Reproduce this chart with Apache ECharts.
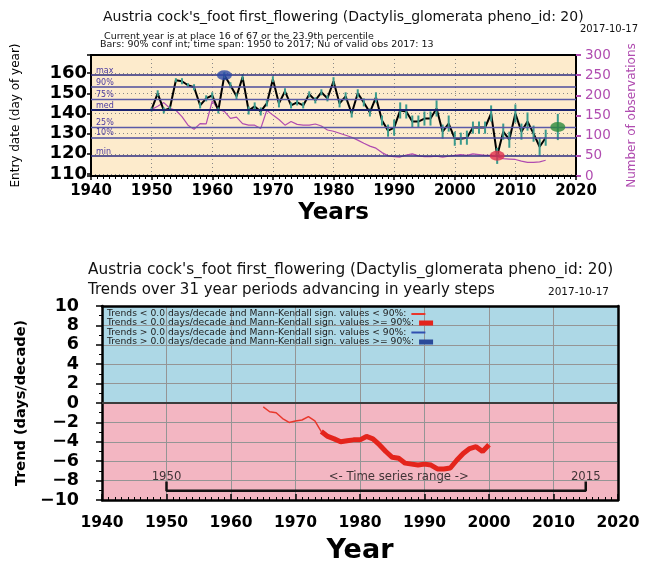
<!DOCTYPE html>
<html>
<head>
<meta charset="utf-8">
<script src="https://cdn.jsdelivr.net/npm/echarts@6/dist/echarts.min.js"></script>
<style>
html, body { margin: 0; padding: 0; background: #fff; }
#main { width: 646px; height: 569px; }
</style>
</head>
<body>
<div id="main"></div>
<script>
// top panel: entry dates per year, starting 1950
var firstYear = 1950;
var entryDays = [142, 150, 141.5, 142.5, 156.5, 156, 154, 153, 144, 147.5,
                 149, 141.5, 159, 154, 148.5, 158, 141.5, 143.5, 141, 145,
                 157, 145, 151, 144, 145.5, 144, 149.5, 146.5, 150.5, 147.5,
                 156, 145, 148.5, 140, 150, 145.5, 140.5, 148, 136.5, 131.5,
                 133, 141.5, 141, 136, 136, 137.5, 137.5, 142.5, 131, 135,
                 127.5, 127.5, 128, 133, 133, 133, 140, 119, 131, 127,
                 140, 131, 136, 130, 123.5, 128];
// half width of the 90% conf interval
var confHalf = [1, 1.5, 1.5, 1, 1, 1.5, 1, 1.5, 1.5, 1.5,
                1.5, 1.5, 1.5, 1.5, 1.5, 1.5, 2, 2, 2, 1.5,
                1.5, 2, 1.5, 1.5, 1.5, 1.5, 1.5, 1.5, 1.5, 1.5,
                2, 2, 2, 2, 2, 2, 2, 2.5, 2.5, 3,
                4, 4, 3.5, 3, 3, 3.5, 3.5, 4, 3.5, 4,
                3.5, 3, 3.5, 3, 3, 3, 4, 4, 4, 4,
                4.5, 4, 4.5, 4, 4.5, 4];
// number of observations (right axis)
var obsCount = [165, 173, 182, 168, 163, 147, 126, 116, 130, 129,
                186, 165, 160, 143, 146, 130, 126, 126, 118, 163,
                151, 140, 126, 135, 128, 126, 126, 129, 124, 114,
                111, 106, 101, 96, 89, 81, 74, 69, 58, 50,
                48, 47, 52, 55, 50, 48, 48, 49, 47, 49,
                51, 53, 51, 55, 53, 51, 51, 48, 43, 42,
                41, 37, 34, 34, 35, 39];
var pctNames = ['max', '90%', '75%', 'med', '25%', '10%', 'min'];
var pctValues = [159, 153.3, 147.2, 142, 133.1, 128.2, 119];
var currentYear = 2017;
var currentDay = 133.3;
var currentHalf = 6.5;

// bottom panel: trend of 31 year windows, centred years from 1965
var trendStart = 1965;
var trendValues = [-0.4, -0.9, -1.0, -1.6, -2.0, -1.85, -1.75, -1.4, -1.85, -2.95,
                   -3.45, -3.7, -4.0, -3.9, -3.8, -3.8, -3.45, -3.7, -4.3, -5.0,
                   -5.6, -5.7, -6.2, -6.3, -6.4, -6.3, -6.4, -6.8, -6.8, -6.7,
                   -5.9, -5.2, -4.7, -4.5, -5.0, -4.3];
var trendSignif = [0, 0, 0, 0, 0, 0, 0, 0, 0, 1,
                   1, 1, 1, 1, 1, 1, 1, 1, 1, 1,
                   1, 1, 1, 1, 1, 1, 1, 1, 1, 1,
                   1, 1, 1, 1, 1, 1];
var rangeYears = [1950, 2015];

var legendNames = [
    'Trends < 0.0 days/decade and Mann-Kendall sign. values < 90%:',
    'Trends < 0.0 days/decade and Mann-Kendall sign. values >= 90%:',
    'Trends > 0.0 days/decade and Mann-Kendall sign. values < 90%:',
    'Trends > 0.0 days/decade and Mann-Kendall sign. values >= 90%:'
];

var purple = '#b04cb0';
var fullTitle = "Austria cock's_foot first_flowering (Dactylis_glomerata pheno_id: 20)";

var lineData = entryDays.map(function (v, i) { return [firstYear + i, v]; });
var obsData = obsCount.map(function (v, i) { return [firstYear + i, v]; });
var errData = entryDays.map(function (v, i) { return [firstYear + i, v - confHalf[i], v + confHalf[i]]; });
errData.push([currentYear, currentDay - currentHalf, currentDay + currentHalf]);

var maxIdx = entryDays.indexOf(Math.max.apply(null, entryDays));
var minIdx = entryDays.indexOf(Math.min.apply(null, entryDays));

var thinData = [], thickData = [];
trendValues.forEach(function (v, i) {
    var yr = trendStart + i;
    thinData.push(trendSignif[i] === 0 || (i > 0 && trendSignif[i - 1] === 0) ? [yr, v] : [yr, null]);
    thickData.push(trendSignif[i] === 1 ? [yr, v] : [yr, null]);
});

var pctStyle = [
    {color: '#2c2c80', width: 1.5},
    {color: '#4c4c9c', width: 1.5},
    {color: '#5a5aa8', width: 1.3},
    {color: '#1c2470', width: 2},
    {color: '#5a5aa8', width: 1.3},
    {color: '#4c4c9c', width: 1.5},
    {color: '#2c2c80', width: 1.5}
];

function errItem(params, api) {
    var p1 = api.coord([api.value(0), api.value(1)]);
    var p2 = api.coord([api.value(0), api.value(2)]);
    return {type: 'line', shape: {x1: p1[0], y1: p1[1], x2: p2[0], y2: p2[1]},
            style: {stroke: '#3a9a8c', lineWidth: 2}};
}

function minusFmt(v) { return v < 0 ? '\u2212' + (-v) : String(v); }
function plainFmt(v) { return String(v); }

var txt = {fontFamily: 'DejaVu Sans', color: '#111', fontWeight: 'normal'};
function ts(extra) { return Object.assign({}, txt, extra); }

option = {
    animation: false,
    backgroundColor: '#fff',
    textStyle: {fontFamily: 'DejaVu Sans'},
    title: [
        {text: fullTitle, left: 103, top: 10, padding: 0, textStyle: ts({fontSize: 14})},
        {text: '2017-10-17', right: 8, top: 24, padding: 0, textStyle: ts({fontSize: 10})},
        {text: 'Current year is at place 16 of 67 or the 23.9th percentile', left: 104, top: 31.5, padding: 0, textStyle: ts({fontSize: 9.5})},
        {text: 'Bars: 90% conf int; time span: 1950 to 2017; Nu of valid obs 2017: 13', left: 100, top: 39.5, padding: 0, textStyle: ts({fontSize: 9.5})},
        {text: fullTitle, left: 88, top: 263, padding: 0, textStyle: ts({fontSize: 15.3})},
        {text: 'Trends over 31 year periods advancing in yearly steps', left: 88, top: 283, padding: 0, textStyle: ts({fontSize: 15})},
        {text: '2017-10-17', left: 548, top: 287, padding: 0, textStyle: ts({fontSize: 10.5})}
    ],
    legend: legendNames.map(function (n, i) {
        return {
            data: [n], left: 107, top: [309.5, 318.5, 328, 337.5][i], padding: 0,
            icon: 'rect', itemWidth: 14, itemHeight: i % 2 === 0 ? 2 : 5,
            align: 'right', selectedMode: false,
            textStyle: ts({fontSize: 9.2, color: '#222'})
        };
    }),
    grid: [
        {left: 91, top: 55, width: 486, height: 121, show: true, backgroundColor: '#fdebcc', borderWidth: 0},
        {left: 102, top: 306, width: 516, height: 194, show: false}
    ],
    xAxis: [
        {gridIndex: 0, type: 'value', min: 1940, max: 2020, interval: 10,
         axisLine: {show: true, onZero: false, lineStyle: {color: '#000', width: 2}},
         axisTick: {show: true, length: 4, lineStyle: {color: '#000', width: 1.5}},
         minorTick: {show: true, splitNumber: 10, length: 3, lineStyle: {color: '#000'}},
         axisLabel: Object.assign(ts({fontSize: 15, fontWeight: 'bold', color: '#000', margin: 8}), {formatter: plainFmt}),
         splitLine: {show: true, lineStyle: {color: '#888', type: [1, 3]}},
         name: 'Years', nameLocation: 'middle', nameGap: 26,
         nameTextStyle: ts({fontSize: 23, fontWeight: 'bold', color: '#000'})},
        {gridIndex: 0, type: 'value', min: 1940, max: 2020, position: 'top',
         axisLine: {show: true, onZero: false, lineStyle: {color: '#000', width: 2}},
         axisTick: {show: false}, axisLabel: {show: false}, splitLine: {show: false}},
        {gridIndex: 1, type: 'value', min: 1940, max: 2020, interval: 10, z: 1,
         axisLine: {show: true, onZero: false, lineStyle: {color: '#000', width: 2.5}},
         axisTick: {show: true, inside: true, length: 6, lineStyle: {color: '#000', width: 1.5}},
         minorTick: {show: true, splitNumber: 10, length: 3, lineStyle: {color: '#000'}},
         axisLabel: Object.assign(ts({fontSize: 15.5, fontWeight: 'bold', color: '#000', margin: 15}), {formatter: plainFmt}),
         splitLine: {show: true, lineStyle: {color: '#959595', width: 1}},
         name: 'Year', nameLocation: 'middle', nameGap: 37,
         nameTextStyle: ts({fontSize: 27, fontWeight: 'bold', color: '#000'})},
        {gridIndex: 1, type: 'value', min: 1940, max: 2020, position: 'top', z: 1,
         axisLine: {show: true, onZero: false, lineStyle: {color: '#000', width: 2.5}},
         axisTick: {show: false}, axisLabel: {show: false}, splitLine: {show: false}}
    ],
    yAxis: [
        {gridIndex: 0, type: 'value', min: 109, max: 169, splitNumber: 6, position: 'left',
         axisLine: {show: true, onZero: false, lineStyle: {color: '#000', width: 2}},
         axisTick: {show: true, length: 4, lineStyle: {color: '#000', width: 1.5}},
         axisLabel: Object.assign(ts({fontSize: 18, fontWeight: 'bold', color: '#000', margin: 4}),
                     {formatter: function (v) { return v % 10 === 0 ? String(v) : ''; }}),
         splitLine: {show: true, lineStyle: {color: '#888', type: [1, 3]}},
         name: 'Entry date (day of year)', nameLocation: 'middle', nameGap: 69, nameRotate: 90,
         nameTextStyle: ts({fontSize: 12, color: '#000'})},
        {gridIndex: 0, type: 'value', min: 0, max: 300, interval: 50, position: 'right',
         axisLine: {show: true, onZero: false, lineStyle: {color: '#000', width: 2}},
         axisTick: {show: true, length: 5, lineStyle: {color: purple, width: 2}},
         axisLabel: ts({fontSize: 13.5, color: purple, margin: 9}),
         splitLine: {show: false},
         name: 'Number of observations', nameLocation: 'middle', nameGap: 50, nameRotate: 90,
         nameTextStyle: ts({fontSize: 12, color: purple})},
        {gridIndex: 1, type: 'value', min: -10, max: 10, interval: 2, z: 1,
         axisLine: {show: true, onZero: false, lineStyle: {color: '#000', width: 2.5}},
         axisTick: {show: true, length: 6, lineStyle: {color: '#000', width: 1.5}},
         minorTick: {show: true, splitNumber: 2, length: 3, lineStyle: {color: '#000'}},
         axisLabel: Object.assign(ts({fontSize: 17.5, fontWeight: 'bold', color: '#000', margin: 23}), {formatter: minusFmt}),
         splitLine: {show: true, lineStyle: {color: '#959595', width: 1}},
         name: 'Trend (days/decade)', nameLocation: 'middle', nameGap: 73, nameRotate: 90,
         nameTextStyle: ts({fontSize: 14.5, fontWeight: 'bold', color: '#000'})},
        {gridIndex: 1, type: 'value', min: -10, max: 10, position: 'right', z: 1,
         axisLine: {show: true, onZero: false, lineStyle: {color: '#000', width: 2.5}},
         axisTick: {show: false}, axisLabel: {show: false}, splitLine: {show: false}}
    ],
    series: [
        // percentile lines
        {type: 'line', xAxisIndex: 0, yAxisIndex: 0, data: [], silent: true, z: 1,
         markLine: {symbol: 'none', silent: true,
            data: pctValues.map(function (v, i) {
                return {yAxis: v, lineStyle: {type: 'solid', color: pctStyle[i].color, width: pctStyle[i].width},
                        label: {show: true, position: 'insideStartTop', distance: [5, 0], formatter: pctNames[i],
                                fontSize: 8, color: '#4a3aa0', fontFamily: 'DejaVu Sans'}};
            })}},
        {type: 'line', name: 'obs', xAxisIndex: 0, yAxisIndex: 1, data: obsData, symbol: 'none', z: 2,
         lineStyle: {color: purple, width: 1.2}},
        {type: 'line', name: 'entry', xAxisIndex: 0, yAxisIndex: 0, data: lineData, symbol: 'none', z: 3,
         lineStyle: {color: '#000', width: 2}},
        {type: 'custom', xAxisIndex: 0, yAxisIndex: 0, data: errData, renderItem: errItem, z: 4,
         encode: {x: 0, y: [1, 2]}},
        {type: 'scatter', xAxisIndex: 0, yAxisIndex: 0, symbol: 'circle', symbolSize: [15, 10], z: 5,
         data: [{value: lineData[maxIdx], itemStyle: {color: '#2a48a8'}},
                {value: lineData[minIdx], itemStyle: {color: '#e0304c'}},
                {value: [currentYear, currentDay], itemStyle: {color: '#2a8a3c'}}]},

        // bottom panel background bands
        {type: 'line', xAxisIndex: 2, yAxisIndex: 2, data: [], silent: true, z: -2,
         markArea: {silent: true, z: -2, data: [
            [{yAxis: 0, itemStyle: {color: '#add8e6'}}, {yAxis: 10}],
            [{yAxis: -10, itemStyle: {color: '#f3b6c2'}}, {yAxis: 0}]
         ]}},
        {type: 'line', name: legendNames[0], xAxisIndex: 2, yAxisIndex: 2, data: thinData, symbol: 'none', z: 3,
         color: '#e8382c', lineStyle: {color: '#e8382c', width: 1.5},
         markLine: {symbol: 'none', silent: true, label: {show: false},
            data: [{yAxis: 0, lineStyle: {type: 'solid', color: '#3c3c3c', width: 2}}]}},
        {type: 'line', name: legendNames[1], xAxisIndex: 2, yAxisIndex: 2, data: thickData, symbol: 'none', z: 4,
         color: '#e4241c', lineStyle: {color: '#e4241c', width: 5}},
        {type: 'line', name: legendNames[2], xAxisIndex: 2, yAxisIndex: 2, data: [], symbol: 'none',
         color: '#3050b0', lineStyle: {color: '#3050b0', width: 1.5}},
        {type: 'line', name: legendNames[3], xAxisIndex: 2, yAxisIndex: 2, data: [], symbol: 'none',
         color: '#2a4a9a', lineStyle: {color: '#2a4a9a', width: 5}},
        // time series range bracket
        {type: 'line', xAxisIndex: 2, yAxisIndex: 2, symbol: 'none', z: 5, silent: true,
         lineStyle: {color: '#111', width: 2.5},
         data: [[rangeYears[0], -8.1], [rangeYears[0], -9.05], [rangeYears[1], -9.05], [rangeYears[1], -8.1]]},
        {type: 'scatter', xAxisIndex: 2, yAxisIndex: 2, symbolSize: 0, z: 5, silent: true,
         label: {show: true, position: 'inside', fontSize: 11.7, color: '#111', fontFamily: 'DejaVu Sans',
                 formatter: function (p) { return p.value[2]; }},
         data: [[rangeYears[0], -7.6, String(rangeYears[0])],
                [rangeYears[1], -7.6, String(rangeYears[1])],
                [1986, -7.6, '<- Time series range ->']]}
    ]
};

var myChart = echarts.init(document.getElementById('main'));
myChart.setOption(option);
</script>
</body>
</html>
